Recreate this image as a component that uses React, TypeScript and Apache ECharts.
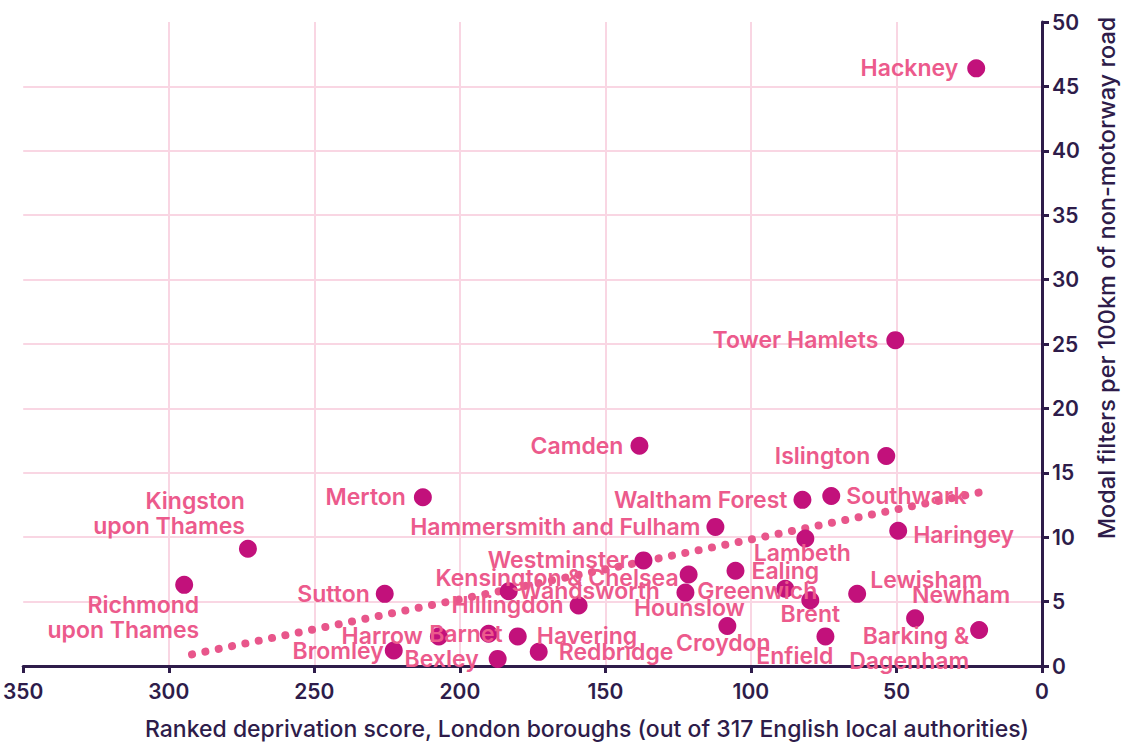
import React, { useEffect, useRef } from "react";
import * as echarts from "echarts";

const boroughs = [
  "Hackney", "Tower Hamlets", "Islington", "Camden", "Merton", "Waltham Forest",
  "Southwark", "Hammersmith and Fulham", "Lambeth", "Haringey", "Kingston\nupon Thames",
  "Westminster", "Kensington & Chelsea", "Ealing", "Greenwich", "Brent", "Lewisham",
  "Newham", "Barking &\nDagenham", "Enfield", "Croydon", "Hounslow", "Wandsworth",
  "Hillingdon", "Sutton", "Richmond\nupon Thames", "Bromley", "Harrow", "Barnet",
  "Havering", "Bexley", "Redbridge",
];
const deprivationRank = [
  22.6, 50.4, 53.5, 138.3, 212.7, 82.3,
  72.4, 112.2, 81.3, 49.4, 272.8,
  136.9, 121.4, 105.3, 88.2, 79.6, 63.5,
  43.6, 21.6, 74.4, 108.1, 122.5, 183.2,
  159.2, 225.8, 294.7, 222.7, 207.2, 190.1,
  180.1, 187.0, 172.9,
];
const filtersPer100km = [
  46.4, 25.3, 16.3, 17.1, 13.1, 12.9,
  13.2, 10.8, 9.9, 10.5, 9.1,
  8.2, 7.1, 7.4, 6.0, 5.1, 5.6,
  3.7, 2.8, 2.3, 3.1, 5.7, 5.8,
  4.7, 5.6, 6.3, 1.2, 2.3, 2.5,
  2.3, 0.55, 1.1,
];
const trendRank = [292, 21];
const trendFilters = [0.9, 13.5];

const xAxisTitle = "Ranked deprivation score, London boroughs (out of 317 English local authorities)";
const yAxisTitle = "Modal filters per 100km of non-motorway road";

// label anchor offsets from dot centre: [dx, dy, align]
const labelPlacement: Record<string, [number, number, string]> = {
  "Hackney": [-18, 0, "right"],
  "Tower Hamlets": [-17, 0, "right"],
  "Islington": [-16, 0, "right"],
  "Camden": [-16, 0, "right"],
  "Merton": [-17, 0, "right"],
  "Waltham Forest": [-15, 0, "right"],
  "Southwark": [15, 0, "left"],
  "Hammersmith and Fulham": [-15, 0, "right"],
  "Lambeth": [-3, 15, "center"],
  "Haringey": [15, 4, "left"],
  "Kingston\nupon Thames": [-3, -35, "right"],
  "Westminster": [-15, 0, "right"],
  "Kensington & Chelsea": [-10, 3, "right"],
  "Ealing": [16, 0, "left"],
  "Greenwich": [-28, 2, "center"],
  "Brent": [0, 14, "center"],
  "Lewisham": [13, -14, "left"],
  "Newham": [-3, -23, "left"],
  "Barking &\nDagenham": [-10, 19, "right"],
  "Enfield": [8, 20, "right"],
  "Croydon": [-4, 17, "center"],
  "Hounslow": [4, 15, "center"],
  "Wandsworth": [10, 0, "left"],
  "Hillingdon": [-15, 0, "right"],
  "Sutton": [-15, 0, "right"],
  "Richmond\nupon Thames": [15, 33, "right"],
  "Bromley": [-10, 0, "right"],
  "Harrow": [-16, 0, "right"],
  "Barnet": [14, 0, "right"],
  "Havering": [19, 0, "left"],
  "Bexley": [-19, 0, "right"],
  "Redbridge": [20, 0, "left"],
};

const FONT = "Inter, 'Open Sans', sans-serif";
const DARK = "#2E1C4A";
const DOT = "#C2117B";
const LABEL = "#EC5A8C";
const GRID = "#F9D6E3";
const SYMBOL = 18;

export default function App() {
  const ref = useRef<HTMLDivElement>(null);
  useEffect(() => {
    if (!ref.current) return;
    const chart = echarts.init(ref.current, undefined, { renderer: "svg" });
    const scatterData = boroughs.map((name, i) => {
      const p = labelPlacement[name] || [12, 0, "left"];
      return {
        name,
        value: [deprivationRank[i], filtersPer100km[i]],
        label: {
          position: [SYMBOL / 2 + p[0], SYMBOL / 2 + p[1]],
          align: p[2],
          verticalAlign: "middle",
        },
      };
    });
    chart.setOption({
      animation: false,
      grid: { left: 22, right: 80, top: 22, bottom: 77, containLabel: false },
      xAxis: {
        type: "value",
        inverse: true,
        min: 0,
        max: 350,
        interval: 50,
        axisLine: { show: true, lineStyle: { color: DARK, width: 3 } },
        axisTick: { show: true, length: 7, lineStyle: { color: DARK, width: 3 } },
        axisLabel: { margin: 15, fontSize: 21, fontWeight: 600, color: DARK, fontFamily: FONT },
        splitLine: { show: true, showMaxLine: false, showMinLine: false, lineStyle: { color: GRID, width: 2 } },
      },
      yAxis: {
        type: "value",
        position: "right",
        min: 0,
        max: 50,
        interval: 5,
        axisLine: { show: true, lineStyle: { color: DARK, width: 3 } },
        axisTick: { show: true, length: 7, lineStyle: { color: DARK, width: 3 } },
        axisLabel: { margin: 10, fontSize: 21, fontWeight: 600, color: DARK, fontFamily: FONT },
        splitLine: { show: true, showMaxLine: false, showMinLine: false, lineStyle: { color: GRID, width: 2 } },
      },
      graphic: [
        {
          type: "text",
          x: 587,
          y: 729,
          style: {
            text: xAxisTitle,
            fill: DARK,
            font: `500 23px ${FONT}`,
            textAlign: "center",
            textVerticalAlign: "middle",
          },
        },
        {
          type: "text",
          x: 1106,
          y: 278,
          rotation: Math.PI / 2,
          style: {
            text: yAxisTitle,
            fill: DARK,
            font: `500 23.5px ${FONT}`,
            textAlign: "center",
            textVerticalAlign: "middle",
          },
        },
      ],
      series: [
        {
          type: "line",
          z: 1,
          data: trendRank.map((r, i) => [r, trendFilters[i]]),
          symbol: "none",
          silent: true,
          lineStyle: { color: "#E8568B", width: 8, type: [0.01, 13.6], cap: "round" },
        },
        {
          type: "scatter",
          z: 3,
          symbolSize: SYMBOL,
          itemStyle: { color: DOT, opacity: 1 },
          data: scatterData,
          label: {
            show: true,
            formatter: "{b}",
            color: LABEL,
            fontSize: 23,
            fontWeight: 600,
            fontFamily: FONT,
            lineHeight: 25,
          },
          labelLayout: { hideOverlap: false },
        },
      ],
    });
    return () => chart.dispose();
  }, []);
  return (
    <div
      ref={ref}
      style={{ position: "absolute", left: 0, top: 0, width: 1122, height: 743, background: "#fff" }}
    />
  );
}
